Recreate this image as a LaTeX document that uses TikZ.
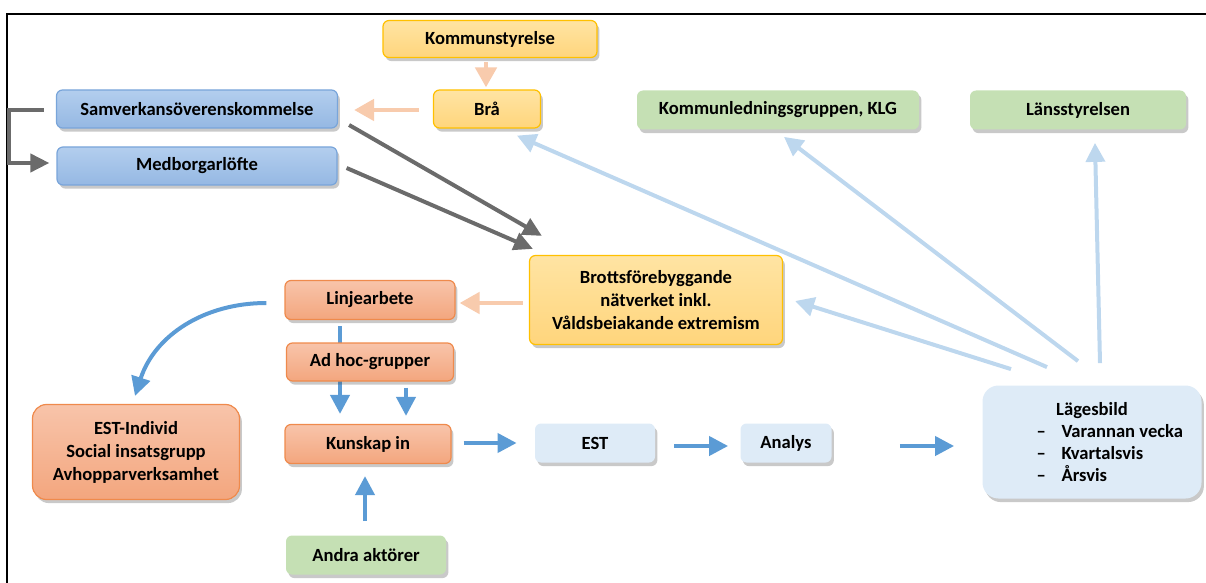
\documentclass[tikz,border=0pt]{standalone}
\usepackage{fontspec}
\setmainfont{Carlito}
\usetikzlibrary{arrows.meta,calc,shadows,backgrounds}

\definecolor{yelTop}{HTML}{FFE4A3}
\definecolor{yelBot}{HTML}{FFD57C}
\definecolor{yelLine}{HTML}{FFC000}
\definecolor{bluTop}{HTML}{B3CEEE}
\definecolor{bluBot}{HTML}{95B8E3}
\definecolor{bluLine}{HTML}{79A5DA}
\definecolor{salTop}{HTML}{F8C4AA}
\definecolor{salBot}{HTML}{F3A67E}
\definecolor{salLine}{HTML}{EF8A4C}
\definecolor{grnFill}{HTML}{C5E0B4}
\definecolor{ltbFill}{HTML}{DEEBF7}
\definecolor{midBlue}{HTML}{5B9BD5}
\definecolor{paleBlue}{HTML}{BDD7EE}
\definecolor{peach}{HTML}{F8CBAD}
\definecolor{darkGray}{HTML}{6B6B6B}

\tikzset{
    box/.style={rounded corners=3pt, inner sep=0pt, align=center,
        font=\fontsize{9.3}{11.5}\selectfont\bfseries,
        drop shadow={shadow xshift=1.2pt, shadow yshift=-1.8pt, opacity=0.3, fill=black!70}},
    yelbox/.style={box, top color=yelTop, bottom color=yelBot, draw=yelLine, line width=0.6pt},
    blubox/.style={box, top color=bluTop, bottom color=bluBot, draw=bluLine, line width=0.6pt},
    salbox/.style={box, top color=salTop, bottom color=salBot, draw=salLine, line width=0.6pt},
    grnbox/.style={box, fill=grnFill},
    ltbbox/.style={box, fill=ltbFill},
    arrblue/.style={draw=midBlue, line width=2pt, -{Triangle[width=9.5pt,length=9.5pt]}},
    arrpale/.style={draw=paleBlue, line width=2pt, -{Triangle[width=9.5pt,length=9.5pt]}},
    arrpeach/.style={draw=peach, line width=2.4pt, -{Triangle[width=10.5pt,length=10pt]}},
    arrgray/.style={draw=darkGray, line width=2pt, -{Triangle[width=9pt,length=9.5pt]}},
}

\begin{document}
\begin{tikzpicture}[x=0.5pt, y=-0.5pt]
    \useasboundingbox (0,0) rectangle (1206,583);
    \draw[line width=1.3pt] (7,583) -- (7,14) -- (1206,14);

    % upper row
    \node[yelbox, minimum width=107pt, minimum height=18.5pt] (komm) at (490,39) {Kommunstyrelse};
    \node[yelbox, minimum width=53.5pt, minimum height=19pt] (bra) at (487,109) {Brå};
    \node[blubox, minimum width=140.5pt, minimum height=19pt] (samv) at (197,109) {Samverkansöverenskommelse};
    \node[blubox, minimum width=140pt, minimum height=19pt] (medb) at (197,166) {Medborgarlöfte};
    \node[grnbox, minimum width=141pt, minimum height=19.5pt] (klg) at (778,110) {Kommunledningsgruppen, KLG};
    \node[grnbox, minimum width=108pt, minimum height=19.5pt] (lans) at (1078,110) {Länsstyrelsen};
    \node[yelbox, minimum width=126.5pt, minimum height=44.5pt] (brotts) at (656,300)
        {Brottsförebyggande\\nätverket inkl.\\Våldsbeiakande extremism};

    % lower part
    \node[salbox, minimum width=85pt, minimum height=19.5pt] (lin) at (370,300) {Linjearbete};
    \node[salbox, minimum width=83.5pt, minimum height=19pt] (adh) at (370,362) {Ad hoc-grupper};
    \node[salbox, minimum width=83pt, minimum height=19.5pt] (kun) at (368,444) {Kunskap in};
    \node[salbox, minimum width=103.5pt, minimum height=47.5pt, rounded corners=7pt] (estind) at (136,452)
        {EST-Individ\\Social insatsgrupp\\Avhopparverksamhet};
    \node[ltbbox, minimum width=60pt, minimum height=19.5pt] (est) at (595,443) {EST};
    \node[ltbbox, minimum width=45.5pt, minimum height=19.5pt] (ana) at (786,443) {Analys};
    \node[ltbbox, minimum width=109.5pt, minimum height=56.5pt, rounded corners=8pt, align=left,
        font=\fontsize{9.3}{11}\selectfont\bfseries] (lag) at (1092,442)
        {\makebox[109.5pt]{Lägesbild}\\
         \hspace*{27pt}\makebox[12.5pt][l]{–}Varannan vecka\\
         \hspace*{27pt}\makebox[12.5pt][l]{–}Kvartalsvis\\
         \hspace*{27pt}\makebox[12.5pt][l]{–}Årsvis};
    \node[grnbox, minimum width=80pt, minimum height=19.5pt] (andra) at (366,555) {Andra aktörer};

    % connectors
    \begin{scope}[on background layer]
        \draw[arrblue] ($(lin.south)+(-30,6)$) -- ($(kun.north)+(-28,-10)$);
    \end{scope}
    \draw[arrpeach] ($(komm.south)+(-4,4)$) -- ($(bra.north)+(-1,-2)$);
    \draw[arrpeach] ($(bra.west)+(-14,1)$) -- ($(samv.east)+(16,1)$);
    \draw[arrpeach] ($(brotts.west)+(-6,3)$) -- ($(lin.east)+(4,3)$);
    \draw[arrgray] ($(samv.west)+(-12,1)$) -- ++(-35,0) |- ($(medb.west)+(-7,-3)$);
    \draw[arrgray] ($(samv.east)+(11,16)$) -- ($(brotts.north west)+(13,-19)$);
    \draw[arrgray] ($(medb.east)+(9,2)$) -- ($(brotts.north west)+(4,-6)$);

    \draw[arrpale] ($(lag.north)+(-81,-16)$) -- ($(brotts.east)+(12,1)$);
    \draw[arrpale] ($(lag.north)+(-45,-18)$) -- ($(bra.south)+(30,7)$);
    \draw[arrpale] ($(lag.north)+(-14,-24)$) -- ($(klg.south)+(6,7)$);
    \draw[arrpale] ($(lag.north)+(8,-22)$) -- ($(lans.south)+(17,13)$);

    \draw[arrblue] ($(lin.west)+(-18,3)$) to[out=180, in=72] ($(estind.north)+(-1,-8)$);
    \draw[arrblue] ($(adh.south)+(36,6)$) -- ($(kun.north)+(38,-8)$);
    \draw[arrblue] ($(andra.north)+(-1,-14)$) -- ($(kun.south)+(-3,12)$);
    \draw[arrblue] ($(kun.east)+(12,-1)$) -- ($(est.west)+(-18,0)$);
    \draw[arrblue] ($(est.east)+(19,3)$) -- ($(ana.west)+(-12,3)$);
    \draw[arrblue] ($(ana.east)+(68,3)$) -- ($(lag.west)+(-28,4)$);
\end{tikzpicture}
\end{document}
